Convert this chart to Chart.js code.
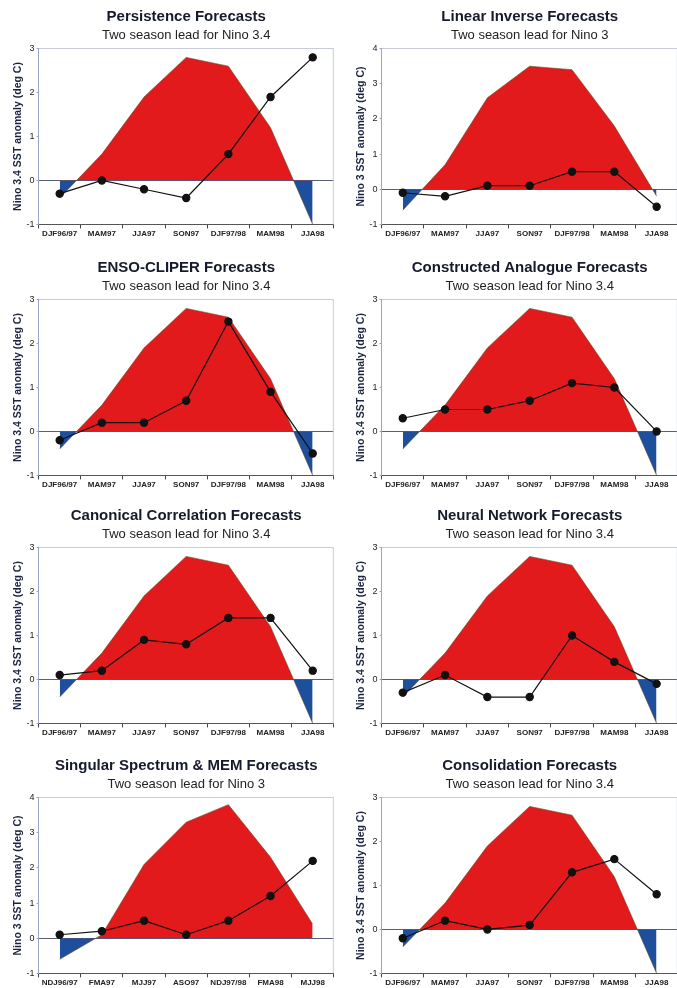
<!doctype html>
<html>
<head>
<title>ENSO Forecasts 1997/98</title>
<script src="https://cdn.jsdelivr.net/npm/chart.js@4.4.9/dist/chart.umd.min.js"></script>
<style>
  body { margin: 0; background: #fff; overflow: hidden; }
  .panel { position: absolute; }
</style>
<script>

// seasons on the x axis
const seasons = ['DJF96/97', 'MAM97', 'JJA97', 'SON97', 'DJF97/98', 'MAM98', 'JJA98'];
const seasonsSSA = ['NDJ96/97', 'FMA97', 'MJJ97', 'ASO97', 'NDJ97/98', 'FMA98', 'MJJ98'];

// observed anomalies (the shaded area)
const observedNino34 = [-0.4, 0.6, 1.9, 2.8, 2.6, 1.2, -1.0];
const observedNino3 = [-0.6, 0.7, 2.6, 3.5, 3.4, 1.8, -0.2];
const observedNino3SSA = [-0.6, 0.1, 2.1, 3.3, 3.8, 2.3, 0.4];

// forecasts, two season lead
const persistence = [-0.3, 0.0, -0.2, -0.4, 0.6, 1.9, 2.8];
const linearInverse = [-0.1, -0.2, 0.1, 0.1, 0.5, 0.5, -0.5];
const ensoCliper = [-0.2, 0.2, 0.2, 0.7, 2.5, 0.9, -0.5];
const constructedAnalogue = [0.3, 0.5, 0.5, 0.7, 1.1, 1.0, 0.0];
const canonicalCorrelation = [0.1, 0.2, 0.9, 0.8, 1.4, 1.4, 0.2];
const neuralNetwork = [-0.3, 0.1, -0.4, -0.4, 1.0, 0.4, -0.1];
const singularSpectrum = [0.1, 0.2, 0.5, 0.1, 0.5, 1.2, 2.2];
const consolidation = [-0.2, 0.2, 0.0, 0.1, 1.3, 1.6, 0.8];

const panels = [
  { title: 'Persistence Forecasts', sub: 'Two season lead for Nino 3.4', labels: seasons, obs: observedNino34, fc: persistence, max: 3, ytitle: 'Nino 3.4 SST anomaly (deg C)' },
  { title: 'Linear Inverse Forecasts', sub: 'Two season lead for Nino 3', labels: seasons, obs: observedNino3, fc: linearInverse, max: 4, ytitle: 'Nino 3 SST anomaly (deg C)' },
  { title: 'ENSO-CLIPER Forecasts', sub: 'Two season lead for Nino 3.4', labels: seasons, obs: observedNino34, fc: ensoCliper, max: 3, ytitle: 'Nino 3.4 SST anomaly (deg C)' },
  { title: 'Constructed Analogue Forecasts', sub: 'Two season lead for Nino 3.4', labels: seasons, obs: observedNino34, fc: constructedAnalogue, max: 3, ytitle: 'Nino 3.4 SST anomaly (deg C)' },
  { title: 'Canonical Correlation Forecasts', sub: 'Two season lead for Nino 3.4', labels: seasons, obs: observedNino34, fc: canonicalCorrelation, max: 3, ytitle: 'Nino 3.4 SST anomaly (deg C)' },
  { title: 'Neural Network Forecasts', sub: 'Two season lead for Nino 3.4', labels: seasons, obs: observedNino34, fc: neuralNetwork, max: 3, ytitle: 'Nino 3.4 SST anomaly (deg C)' },
  { title: 'Singular Spectrum & MEM Forecasts', sub: 'Two season lead for Nino 3', labels: seasonsSSA, obs: observedNino3SSA, fc: singularSpectrum, max: 4, ytitle: 'Nino 3 SST anomaly (deg C)' },
  { title: 'Consolidation Forecasts', sub: 'Two season lead for Nino 3.4', labels: seasons, obs: observedNino34, fc: consolidation, max: 3, ytitle: 'Nino 3.4 SST anomaly (deg C)' },
];

const FONT = 'Liberation Sans, Arial, sans-serif';

// light frame on the right side of the plot area
const frame = {
  id: 'frame',
  beforeDatasetsDraw(chart) {
    const a = chart.chartArea;
    const ctx = chart.ctx;
    ctx.save();
    ctx.strokeStyle = '#c8ccd8';
    ctx.lineWidth = 1;
    ctx.beginPath();
    ctx.moveTo(a.right - 0.5, a.top);
    ctx.lineTo(a.right - 0.5, a.bottom);
    ctx.stroke();
    ctx.restore();
  }
};

function go() {
  const rowTops = [0, 251, 499, 749];
  panels.forEach((p, i) => {
    const col = i % 2;
    const div = document.createElement('div');
    div.className = 'panel';
    div.style.left = (col ? 343 : 0) + 'px';
    div.style.top = rowTops[Math.floor(i / 2)] + 'px';
    const canvas = document.createElement('canvas');
    canvas.width = col ? 340 : 339;
    canvas.height = 242;
    div.appendChild(canvas);
    document.body.appendChild(div);

    new Chart(canvas, {
      type: 'line',
      data: {
        labels: p.labels,
        datasets: [
          {
            label: 'forecast',
            data: p.fc,
            borderColor: '#111',
            borderWidth: 1.2,
            pointRadius: 3.6,
            pointBackgroundColor: '#111',
            pointBorderColor: '#111',
            fill: false,
            tension: 0,
            order: 0,
          },
          {
            label: 'observed',
            data: p.obs,
            borderColor: 'rgba(90,70,30,0.7)',
            borderWidth: 0.8,
            pointRadius: 0,
            backgroundColor: '#e21a1c',
            fill: { target: 'origin', above: '#e21a1c', below: '#1d4f9c' },
            tension: 0,
            order: 1,
          },
        ],
      },
      options: {
        responsive: false,
        animation: false,
        layout: { padding: { left: 12, right: col ? 0 : 4, top: 0, bottom: 2 } },
        plugins: {
          legend: { display: false },
          tooltip: { enabled: false },
          title: {
            display: true,
            text: p.title,
            fullSize: false,
            color: '#161a2c',
            font: { family: FONT, size: 15, weight: 'bold' },
            padding: { top: 8, bottom: 2 },
          },
          subtitle: {
            display: true,
            text: p.sub,
            fullSize: false,
            color: '#222',
            font: { family: FONT, size: 13 },
            padding: { top: 0, bottom: 5 },
          },
        },
        scales: {
          x: {
            offset: true,
            grid: { offset: true, drawOnChartArea: false, tickLength: 4, color: '#444' },
            border: { color: '#555', width: 1 },
            ticks: {
              color: '#222',
              font: { family: FONT, size: 8, weight: 'bold' },
              maxRotation: 0,
              autoSkip: false,
              padding: 1,
            },
          },
          y: {
            min: -1,
            max: p.max,
            ticks: { stepSize: 1, color: '#222', font: { family: FONT, size: 9 }, padding: 2 },
            grid: {
              color: ctx => ctx.tick.value === 0 ? '#5a6070' : (ctx.tick.value === p.max ? '#c8ccd8' : 'rgba(0,0,0,0)'),
              tickColor: '#9aa6c4',
              tickLength: 2,
            },
            border: { color: '#9aa6c4', width: 1 },
            title: {
              display: true,
              text: p.ytitle,
              color: '#1b2340',
              font: { family: FONT, size: 10.5, weight: 'bold' },
              padding: { top: 0, bottom: 0 },
            },
          },
        },
      },
      plugins: [frame],
    });
  });
}

window.onload = go;

</script>
</head>
<body>
</body>
</html>
